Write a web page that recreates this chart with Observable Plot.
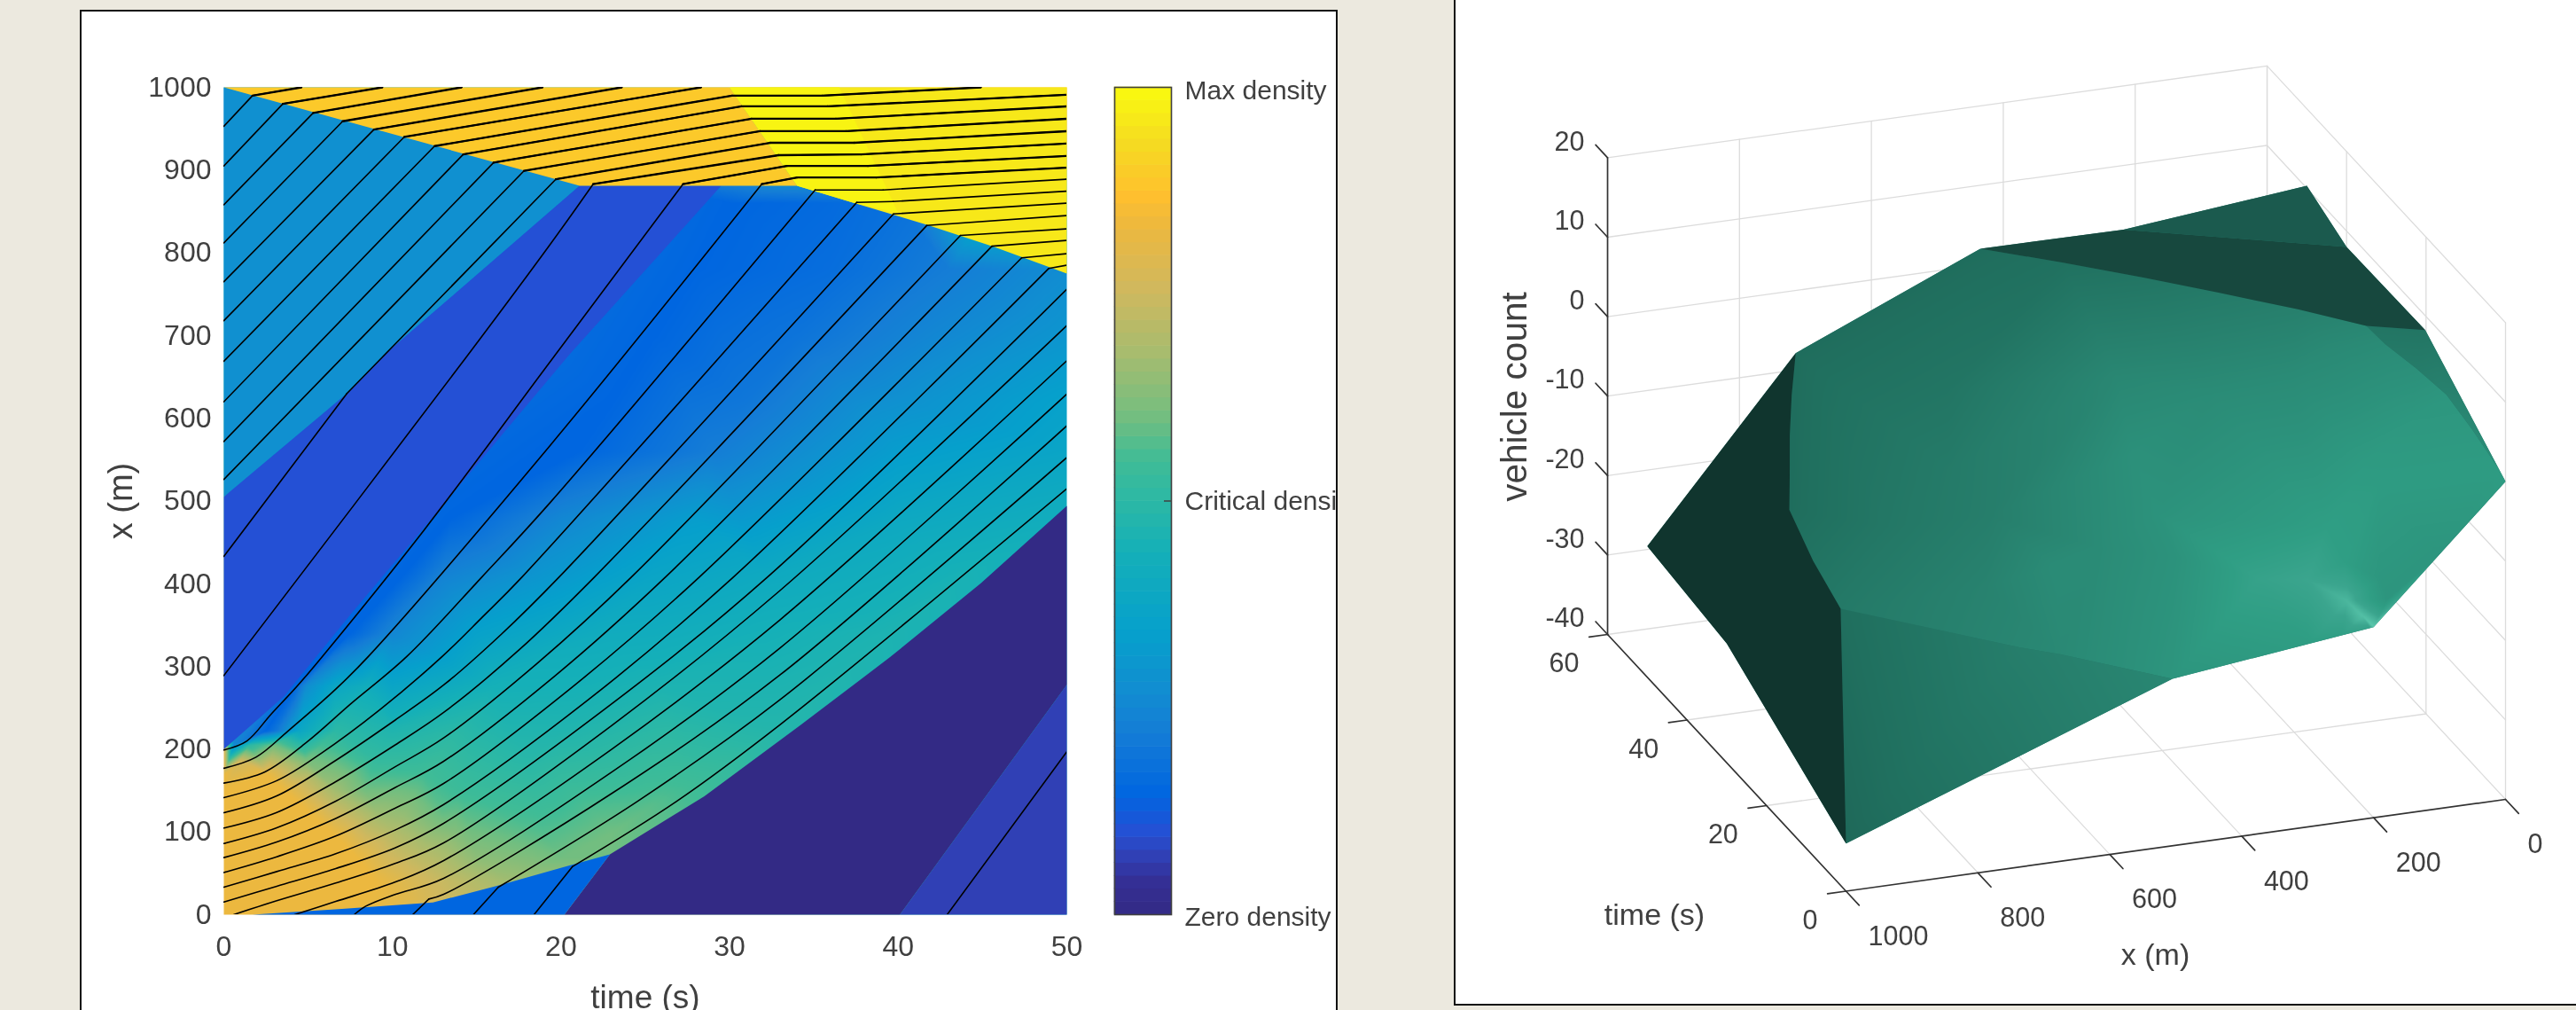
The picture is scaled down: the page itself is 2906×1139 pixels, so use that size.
<!DOCTYPE html>
<html><head><meta charset="utf-8">
<script src="https://cdn.jsdelivr.net/npm/d3@7"></script>
<script src="https://cdn.jsdelivr.net/npm/@observablehq/plot@0.6"></script>
<style>
html,body{margin:0;padding:0;width:2906px;height:1139px;overflow:hidden;background:#ECE9DF}
.panel{position:absolute;background:#fff;overflow:hidden;outline:2px solid #111}
svg{filter:blur(.6px);overflow:hidden}
</style></head><body>
<div class="panel" id="leftPanel" style="left:92px;top:13px;width:1415px;height:1140px"></div>
<div class="panel" id="rightPanel" style="left:1642px;top:-5px;width:1270px;height:1137px"></div>
<script>
// ---------- colormap ----------
const densityStops = [0,.04,.07,.10,.145,.22,.28,.34,.44,.50,.55,.60,.68,.755,.83,.87,.93,1];
const densityColors = ["#332a85","#342f95","#3040b5","#2450d5","#0066e0","#157dd6","#1090d0","#06a0cc","#15b0b8","#2cb8a5","#40bc96","#72be80","#a8bc6e","#d0b85e","#ecb83f","#ffc02e","#f5da22","#f9fb0e"];
const timeTicks = [0,10,20,30,40,50];
const positionTicks = [0,100,200,300,400,500,600,700,800,900,1000];
const colorbarLabels = [{v:.996,s:"Max density"},{v:.5,s:"Critical density"},{v:-.003,s:"Zero density"}];
// ---------- density samples: position x, then [time, normalised density] ----------
const densitySlices = [
 [860,[[30,.145],[36,.16],[40,.18]]],
 [780,[[28,.145],[36,.17],[43,.22],[50,.27]]],
 [700,[[25.5,.145],[34,.19],[42,.25],[50,.30]]],
 [620,[[23,.145],[31,.2],[41,.29],[50,.35]]],
 [560,[[21,.145],[29,.22],[40,.33],[50,.37]]],
 [480,[[13.5,.145],[20,.25],[28,.33],[40,.39],[50,.42]]],
 [408,[[10.5,.145],[13,.24],[18.3,.30],[25.3,.37],[32.3,.40],[44,.45]]],
 [340,[[7.5,.145],[10,.25],[15,.35],[22,.41],[32,.44],[39,.46]]],
 [276,[[4.2,.145],[4.9,.27],[6.6,.38],[8.4,.42],[16,.44],[26,.46],[36,.47]]],
 [222,[[2.5,.145],[3.1,.2],[4.5,.38],[6.6,.5],[10,.47],[20,.47],[33,.48]]],
 [205,[[.6,.25],[1.5,.5],[3,.6]]],
 [187,[[1,.75],[4.9,.61],[9,.52],[18,.49],[28,.52]]],
 [169,[[0,.83],[2.6,.83],[5,.7],[11.9,.55],[20,.52],[27,.54]]],
 [151,[[0,.83],[3.5,.83],[6.6,.67],[8.4,.6],[14,.54],[25,.55]]],
 [126,[[0,.83],[4.9,.83],[9,.66],[13,.58],[20,.55],[25,.58]]],
 [98,[[0,.83],[6.5,.83],[10.15,.7],[13.6,.63],[19,.57],[23,.6]]],
 [69,[[0,.83],[7.9,.83],[11.5,.72],[15,.64],[20,.6],[23,.6]]],
 [40,[[0,.83],[9,.83],[12,.76],[15,.7],[17,.67]]],
 [10,[[0,.83],[8,.83],[12,.78]]],
 [0,[[0,.83],[50,.44]]],
 [1000,[[0,.28],[50,.9]]]
];
// ---------- hard-edged regions of the (time, x) plane ----------
const regionFreeLeft = {d:.28,pts:[[0,1000],[21.1,881],[9.7,680],[7.3,630],[0,505]]};
const regionSlowBlue = {d:.10,pts:[[0,505],[7.3,630],[9.7,680],[21.1,881],[29.5,881],[20.5,677],[12.95,494],[7.6,365],[3.57,264],[0,200]]};
const regionOrange   = {d:.89,pts:[[0,1000],[21.1,881],[34,881],[30,1000]]};
const regionYellow   = {d:.96,pts:[[30,1000],[34,881],[37.4,860],[41.7,834],[45.7,807],[50,775],[50,1000]]};
const regionBright   = {d:.985,pts:[[30,1000],[34,881],[37.4,860],[40,848],[36.5,1000]]};
const regionEmpty    = {d:0,pts:[[20.2,0],[22.9,73],[28.5,143],[34.2,229],[39.5,311],[44.9,400.5],[50,494],[50,278],[40.1,0]]};
const regionTail     = {d:.07,pts:[[40.1,0],[50,278],[50,0]]};
const regionStrip    = {d:.145,pts:[[1.7,0],[7,7],[12.4,14.7],[16.4,36],[20.5,59.5],[22.9,73],[20.2,0]]};
// ---------- vehicle trajectories as [time, x]; a third item 1 marks a sharp corner ----------
const trajectories = [
 [[0,953],[1.7,990,1],[4.6,1000]],
 [[0,905],[3.5,980,1],[9.4,1000]],
 [[0,858],[5.3,969,1],[14.1,1000]],
 [[0,812],[7.05,959,1],[18.9,1000]],
 [[0,765],[8.9,949,1],[23.6,1000]],
 [[0,718],[10.7,940,1],[28.3,1000]],
 [[0,669],[12.5,929,1],[30.15,990,1],[35.5,990,1],[44.9,1000]],
 [[0,620],[14.2,919,1],[30.7,977,1],[35.8,977,1],[50,991]],
 [[0,572],[16,909,1],[31.3,962,1],[36.3,962,1],[50,977]],
 [[0,526],[17.8,899,1],[31.8,947,1],[36.9,947,1],[50,962]],
 [[0,433],[7.3,630,1],[19.7,889,1],[32.4,933,1],[37.4,933,1],[50,947]],
 [[0,289],[14.46,676],[19.35,810],[21.9,883,1],[32.9,918,1],[37.8,919,1],[50,932]],
 [[0,199],[1.37,210],[2.79,242],[4.36,276.5],[5.84,312],[11.88,465],[19.45,671],[27.23,883,1],[33.4,905,1],[38.2,905,1],[50,917]],
 [[0,177],[1.91,190.4],[3.84,222.6],[6.64,272.6],[8.57,312],[19.35,567],[31.9,883,1],[34,891,1],[38.7,891,1],[50,903]],
 [[0,159],[2.44,172.6],[4.89,208],[7.52,254.7],[10.85,312],[15.3,408],[19.35,498],[35.07,876,1],[39.1,876,1],[50,889]],
 [[0,141.5],[3.14,162],[5.77,195],[9.27,248],[12.95,312],[15.35,360],[17.68,408],[37.54,861,1],[39.7,862,1],[50,874.5]],
 [[0,123.2],[3.14,143.6],[6.64,186.5],[10.15,235],[13.04,277.6],[16.46,339],[19.88,408],[39.72,847,1],[50,860]],
 [[0,104.7],[3.14,123.6],[6.64,160.8],[10.15,205],[13.04,244.4],[17.51,320],[21.98,408],[41.69,833,1],[50,845]],
 [[0,86],[3.14,105],[6.64,137.2],[10.15,178.6],[13.04,213.6],[18.6,304],[24.17,408],[43.69,821,1],[50,829]],
 [[0,69],[3.14,87.9],[6.64,116.4],[10.15,153.6],[13.04,185.4],[19.6,288],[26.19,408],[45.56,808,1],[50,815]],
 [[0,51],[3.14,70],[6.64,95],[10.15,128.6],[13.04,158.6],[20.6,274],[28.2,408],[47.32,794,1],[50,799]],
 [[0,33.2],[3.14,52.1],[6.64,73.6],[10.15,102.2],[13.04,133.2],[21.63,260],[30.22,408],[48.92,781,1],[50,785]],
 [[0,15.3],[3.14,34.3],[6.64,55.7],[10.15,80.7],[13.04,110.4],[22.63,249],[32.24,408],[50,756]],
 [[.58,0],[3.14,16.8],[6.64,38.2],[10.15,61.8],[13.04,86.8],[23.03,229],[33,392],[50,712]],
 [[4.19,0],[6.64,16],[10.15,39.3],[13.04,65.4],[23.03,200.4],[33,356.6],[50,669.6]],
 [[7.73,0],[8.4,10],[10.15,24.3],[13.04,44],[23.03,172.6],[33,322.6],[50,629.3]],
 [[11.2,0],[12.16,18.9,1],[13.04,24.6],[23.03,146.8],[33,290],[50,591]],
 [[14.8,0],[16.28,33.2,1],[24.6,137.9],[33,260],[50,552.6]],
 [[18.4,0],[20.67,58,1],[26.84,136.8],[33,229.8],[50,515]],
 [[42.9,0],[50,197]]
];
// ---------- 3-D surface: [x, time, vehicle count] ----------
const xTicks3d = [1000,800,600,400,200,0];
const tTicks3d = [0,20,40,60];
const zTicks3d = [-40,-30,-20,-10,0,10,20];
const outlineSilhouette = [[0,0,0],[200,0,-16],[505,0,-19],[1000,0,-34],[1000,30,-25],[1000,50,-23.5],[775,50,-1.8],[495,50,8.1],[278,50,8],[0,50,10.3],[0,40,8],[0,20.2,8.2]];
const outlineMain = [[0,0,0],[0,1.7,.7],[7,7,2.7],[14.7,12.4,4.4],[36,16.4,5.8],[59.5,20.5,7],[73,22.9,8.1],[143,28.5,8],[229,34.2,8],[311,39.5,8],[400,44.9,8],[495,50,8.1],[775,50,-1.8],[807,45.7,-4.4],[834,41.7,-7],[860,37.4,-9.6],[881,34,-11.7],[881,28,-14.9],[881,21.1,-17.2],[680,9.7,-18.2],[630,7.3,-18.4],[505,0,-19],[200,0,-16]];
const outlineFront = [[1000,0,-34],[505,0,-19],[630,7.3,-18.4],[680,9.7,-18.2],[881,21.1,-17.2]];
const outlineStrip = [[0,1.7,.7],[0,20.2,8.2],[73,22.9,8.1],[59.5,20.5,7],[36,16.4,5.8],[14.7,12.4,4.4],[7,7,2.7]];
const facetQueue = [[1000,0,-34],[881,21.1,-17.2],[881,28,-14.9],[881,34,-11.7],[860,37.4,-9.6],[834,41.7,-7],[807,45.7,-4.4],[775,50,-1.8],[1000,50,-23.5],[1000,30,-25]];
const facetEmpty = [[0,20.2,8.2],[73,22.9,8.1],[143,28.5,8],[229,34.2,8],[311,39.5,8],[400,44.9,8],[495,50,8.1],[278,50,8],[0,40,8]];
const facetTail = [[0,40,8],[278,50,8],[0,50,10.3]];
// shading samples [x, time, count, shade]
const shadeMain = [[0,0,0,.83],[0,1.7,.7,.83],[7,7,2.7,.81],[14.7,12.4,4.4,.79],[36,16.4,5.8,.74],[59.5,20.5,7,.70],[73,22.9,8.1,.66],[143,28.5,8,.6],[229,34.2,8,.55],[311,39.5,8,.5],[400,44.9,8,.46],[495,50,8.1,.43],[775,50,-1.8,.43],[881,34,-11.7,.43],[881,21.1,-17.2,.54],[630,7.3,-18.4,.68],[505,0,-19,.78],[300,0,-17,.84],[250,0,-16.5,.86],[205,0,-16.1,.9],[200,0,-16,1],[100,0,-8,.78],[205,2,-15.6,.98],[210,5,-15.3,.96],[240,10,-15,.92],[300,12.5,-15.5,.89],[200,7,-11.5,.85],[170,1.5,-13.6,.78],[160,5,-13,.79],[208,10.15,-8.7,.85],[129.7,10.15,-4.35,.83],[408,15.3,-13,.76],[498,19.35,-13,.70],[671,19.45,-16,.62],[408,19.88,-10.15,.76],[408,26.19,-5.8,.74],[392,33,0,.66],[603,40,-2.9,.50],[645,33,-8.7,.55],[620,27,-11.6,.58],[756,30,-13,.52],[567,19.35,-14.5,.70],[187,23,2.9,.70],[283,27.06,0,.70],[290,33,4.35,.6],[126,23.56,5.8,.68],[65,13,1.45,.8],[133,13,-2.9,.82]];
const shadeFront = [[1000,0,-34,.40],[881,21.1,-17.2,.44],[680,9.7,-18.2,.58],[630,7.3,-18.4,.6],[505,0,-19,.66]];
const shadeStrip = [[0,20.2,8.2,.5],[73,22.9,8.1,.5],[0,1.7,.7,.74],[14.7,12.4,4.4,.62],[36,16.4,5.8,.56],[7,7,2.7,.68]];
const shadeStops = [0,.2,.3,.45,.6,.75,.85,.92,1];
const shadeColors = ["#10352e","#17483e","#1b5a4e","#20705f","#27806d","#2c917b","#2f9e84","#3ba58e","#5cc9ae"];

// ========== left chart ==========
const densityNodes = densitySlices.flatMap(([x,row]) => row.map(([t,d]) => ({t,x,d})));
const regions = [regionFreeLeft,regionSlowBlue,regionOrange,regionYellow,regionBright,regionEmpty,regionTail,regionStrip]
  .flatMap((r,i) => r.pts.map(([t,x]) => ({id:i,t,x,d:r.d})));
// split every trajectory at its sharp corners so the curve only smooths between them
let segId = 0;
const trajRows = trajectories.flatMap(l => {
  const rows = []; let upper = false;
  l.forEach(([t,x,corner]) => {
    rows.push({id:segId,t,x,upper});
    if (corner) { segId++; upper = true; rows.push({id:segId,t,x,upper}); }
  });
  segId++;
  return rows;
});
const densityColor = {type:"linear",domain:densityStops,range:densityColors,clamp:true};
const fontFamily = "Liberation Sans";
const left = Plot.plot({
  width:1415,height:1126,marginLeft:160,marginRight:304,marginTop:85,marginBottom:108,
  style:{fontFamily,color:"#404040",background:"transparent"},
  x:{domain:[0,50],axis:null},y:{domain:[0,1000],axis:null},color:densityColor,
  marks:[
    Plot.raster(densityNodes,{x:"t",y:"x",fill:"d",interpolate:"barycentric",pixelSize:1,x1:0,x2:50,y1:0,y2:1000}),
    Plot.line(regions,{x:"t",y:"x",z:"id",fill:"d",stroke:"none"}),
    Plot.line(trajRows,{x:"t",y:"x",z:"id",stroke:"#000",strokeWidth:1.6,clip:true,curve:"catmull-rom"}),
    Plot.line(trajRows.filter(d => d.upper && d.x > 880),{x:"t",y:"x",z:"id",stroke:"#000",strokeWidth:2.3,clip:true,curve:"catmull-rom"}),
    Plot.axisX({ticks:timeTicks,tickSize:0,tickPadding:24,fontSize:32,tickFormat:String,label:null}),
    Plot.axisY({ticks:positionTicks,tickSize:0,tickPadding:14,fontSize:32,tickFormat:String,label:null}),
    Plot.text(["time (s)"],{frameAnchor:"bottom",dy:94,fontSize:37,lineAnchor:"middle"}),
    Plot.text(["x (m)"],{frameAnchor:"left",textAnchor:"middle",dx:-116,rotate:-90,fontSize:38})
  ]
});
left.style.position="absolute";left.style.left="0";left.style.top="0";
document.getElementById("leftPanel").appendChild(left);

const bar = Plot.plot({
  width:252,height:987,marginLeft:2,marginRight:186,marginTop:24,marginBottom:30,
  style:{fontFamily,color:"#404040",background:"transparent"},
  x:{domain:[0,1],axis:null},y:{domain:[0,1],axis:null},color:densityColor,
  marks:[
    Plot.rect(d3.range(64).map(i => i/64),{x1:0,x2:1,y1:d=>d,y2:d=>d+1/64,fill:d=>d+1/128,inset:-.3}),
    Plot.frame({stroke:"#404040",strokeWidth:1.6}),
    Plot.ruleY([.5],{x1:.875,x2:1,stroke:"#404040",strokeWidth:1.5}),
    Plot.text(colorbarLabels,{x:1,y:"v",text:"s",dx:15,textAnchor:"start",fontSize:30})
  ]
});
bar.style.position="absolute";bar.style.left="1163px";bar.style.top="61px";
document.getElementById("leftPanel").appendChild(bar);

// ========== right chart: orthographic projection of (x, time, count) to the page ==========
const sx = ([x,t]) => 2826 - .744*x - 4.483*t;
const sy = ([x,t,z]) => 901 + .1035*x - 4.825*t - 8.96*(z+40);
const poly = (id,pts) => pts.map(p => ({id,p}));
const gridSegs = [
  ...xTicks3d.filter(x=>x<1000).map(x => [[x,0,-40],[x,60,-40]]),
  ...tTicks3d.filter(t=>t>0).map(t => [[0,t,-40],[1000,t,-40]]),
  ...xTicks3d.filter(x=>x<1000).map(x => [[x,60,-40],[x,60,20]]),
  ...tTicks3d.map(t => [[0,t,-40],[0,t,20]]),
  ...zTicks3d.filter(z=>z>-40).map(z => [[1000,60,z],[0,60,z]]),
  ...zTicks3d.filter(z=>z>-40).map(z => [[0,60,z],[0,0,z]])
].flatMap((s,i) => poly(i,s));
const axisSegs = [
  [[1000,60,-40],[1000,60,20]],[[1000,60,-40],[1000,0,-40]],[[1000,0,-40],[0,0,-40]],
  ...zTicks3d.map(z => [[1000,60,z],[1000,63,z]]),
  ...tTicks3d.map(t => [[1000,t,-40],[1028,t,-40]]),
  ...xTicks3d.map(x => [[x,0,-40],[x,-3.3,-40]])
].flatMap((s,i) => poly(i,s));
const nodeRow = ([x,t,z,shade]) => ({p:[x,t,z],shade});
const P = {x:d=>sx(d.p),y:d=>sy(d.p)};
const rasterOpts = {...P,fill:"shade",interpolate:"barycentric",pixelSize:1,x1:1642,x2:2912,y1:-5,y2:1132};
const right = Plot.plot({
  width:1270,height:1137,margin:0,
  style:{fontFamily,color:"#404040",background:"transparent"},
  x:{domain:[1642,2912],range:[0,1270],axis:null},
  y:{domain:[-5,1132],range:[0,1137],axis:null},
  color:{type:"linear",domain:shadeStops,range:shadeColors,clamp:true},
  marks:[
    Plot.line(gridSegs,{...P,z:"id",stroke:"#dcdcdc",strokeWidth:1.3}),
    Plot.line(poly(0,outlineSilhouette),{...P,fill:"#26796a",stroke:"none"}),
    Plot.raster(shadeMain.map(nodeRow),rasterOpts),
    Plot.raster(shadeFront.map(nodeRow),rasterOpts),
    Plot.raster(shadeStrip.map(nodeRow),rasterOpts),
    Plot.line(poly(0,facetQueue),{...P,fill:"#10352e",stroke:"none"}),
    Plot.line(poly(0,facetEmpty),{...P,fill:"#17483e",stroke:"none"}),
    Plot.line(poly(0,facetTail),{...P,fill:"#1b5a4e",stroke:"none"}),
    Plot.line(axisSegs,{...P,z:"id",stroke:"#333",strokeWidth:1.7}),
    Plot.text(zTicks3d.map(z=>({p:[1000,60,z],s:String(z)})),{...P,text:"s",dx:-26,dy:-18,textAnchor:"end",fontSize:30.5}),
    Plot.text(tTicks3d.map(t=>({p:[1000,t,-40],s:String(t)})),{...P,text:"s",dx:-32,dy:33,textAnchor:"end",fontSize:30.5}),
    Plot.text(xTicks3d.map(x=>({p:[x,0,-40],s:String(x)})),{...P,text:"s",dx:25,dy:51,textAnchor:"start",fontSize:30.5}),
    Plot.text(["vehicle count"],{x:()=>1709,y:()=>447,rotate:-90,fontSize:40.5}),
    Plot.text(["time (s)"],{x:()=>1866,y:()=>1032,fontSize:34}),
    Plot.text(["x (m)"],{x:()=>2431,y:()=>1077,fontSize:34})
  ]
});
// each shaded facet keeps only its own outline
const ns = "http://www.w3.org/2000/svg";
const defs = document.createElementNS(ns,"defs");
right.prepend(defs);
[outlineMain,outlineFront,outlineStrip].forEach((o,i) => {
  const cp = document.createElementNS(ns,"clipPath");cp.setAttribute("id","facet"+i);
  const pg = document.createElementNS(ns,"polygon");
  pg.setAttribute("points",o.map(p => right.scale("x").apply(sx(p))+","+right.scale("y").apply(sy(p))).join(" "));
  cp.appendChild(pg);defs.appendChild(cp);
});
right.querySelectorAll("image").forEach((im,i) => im.setAttribute("clip-path",`url(#facet${i})`));
right.style.position="absolute";right.style.left="0";right.style.top="0";
document.getElementById("rightPanel").appendChild(right);
</script>
</body></html>
